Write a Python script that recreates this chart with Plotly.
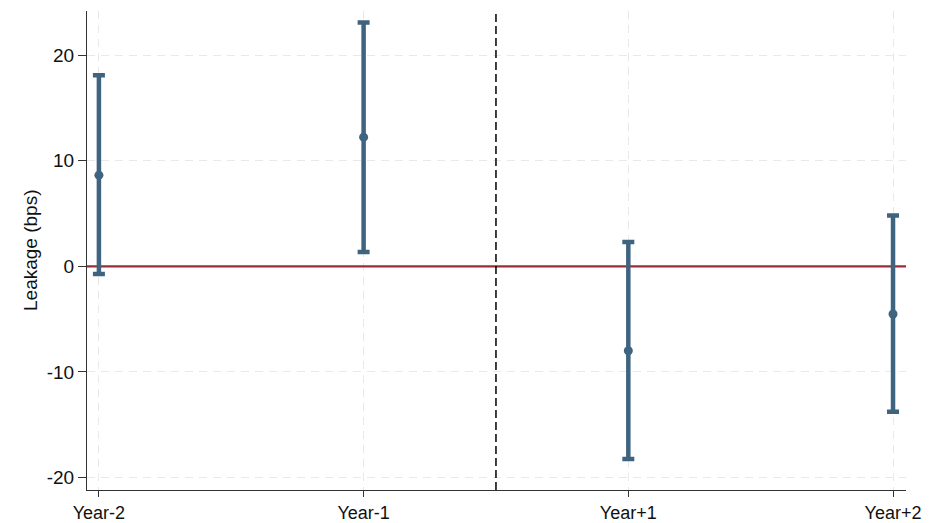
import plotly.graph_objects as go

categories = ["Year-2", "Year-1", "Year+1", "Year+2"]
positions = [1, 2, 3, 4]
estimates = [8.63, 12.23, -7.99, -4.51]
upper = [18.1, 23.07, 2.31, 4.81]
lower = [-0.72, 1.36, -18.23, -13.77]
y_ticks = [-20, -10, 0, 10, 20]
y_tick_text = ["-20", "-10", "0", "10", "20"]

err_plus = [u - e for u, e in zip(upper, estimates)]
err_minus = [e - l for e, l in zip(estimates, lower)]

x_range = [0.955, 4.049]
y_range = [-21.17, 24.17]
color = "#3f6480"

fig = go.Figure()
# zero reference line
fig.add_trace(go.Scatter(x=x_range, y=[0, 0], mode="lines",
                         line=dict(color="#9b2c35", width=2.2), showlegend=False, hoverinfo="skip"))
# event line
fig.add_trace(go.Scatter(x=[2.5, 2.5], y=y_range, mode="lines",
                         line=dict(color="black", width=1.5, dash="8px,4px"), showlegend=False, hoverinfo="skip"))
fig.add_trace(go.Scatter(
    x=positions, y=estimates, mode="markers",
    marker=dict(color=color, size=9),
    error_y=dict(type="data", symmetric=False, array=err_plus, arrayminus=err_minus,
                 color=color, thickness=4.5, width=6),
    showlegend=False,
))

fig.add_annotation(text="Leakage (bps)", xref="paper", yref="paper",
                   x=(18 - 87) / 819, y=0.5, textangle=-90, showarrow=False,
                   font=dict(size=19, family="Liberation Sans, Arial", color="#111"))

fig.update_layout(
    width=929, height=523,
    margin=dict(l=87, r=23, t=11, b=33),
    plot_bgcolor="white", paper_bgcolor="white",
    font=dict(family="Liberation Sans, Arial", size=19, color="#111"),
)
fig.update_xaxes(
    range=x_range, tickvals=positions, ticktext=categories, automargin=False,
    tickfont=dict(size=18),
    showgrid=True, gridcolor="#e9e9e9", griddash="8px,6px", gridwidth=1,
    showline=True, linecolor="#333", linewidth=1.2,
    ticks="outside", ticklen=6, tickcolor="#333", zeroline=False,
)
fig.update_yaxes(
    range=y_range, tickvals=y_ticks, ticktext=y_tick_text, automargin=False,
    showgrid=True, gridcolor="#e9e9e9", griddash="8px,6px", gridwidth=1,
    showline=True, linecolor="#333", linewidth=1.2,
    ticks="outside", ticklen=8, tickcolor="#333", zeroline=False,
)

fig.write_html("out.html", config={"displayModeBar": False},
               post_script="document.body.style.margin='0';document.body.style.overflow='hidden';")
